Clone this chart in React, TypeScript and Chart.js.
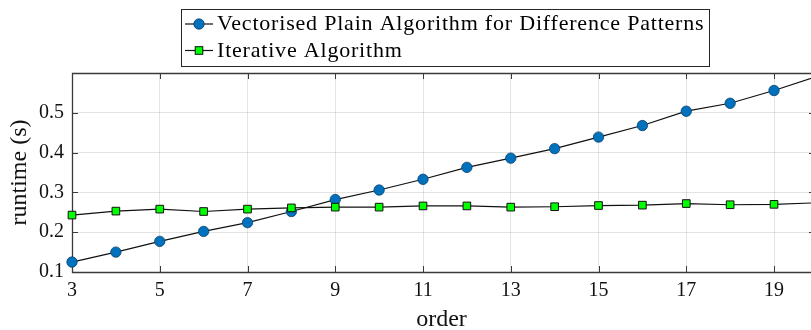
import { useEffect, useRef } from "react";
import { Chart, registerables } from "chart.js";

Chart.register(...registerables);

const orders = [3, 4, 5, 6, 7, 8, 9, 10, 11, 12, 13, 14, 15, 16, 17, 18, 19, 20];
const vectorisedRuntime = [
  0.125, 0.15, 0.177, 0.202, 0.224, 0.252, 0.282, 0.306, 0.333, 0.363, 0.386, 0.41,
  0.439, 0.468, 0.504, 0.524, 0.556, 0.592,
];
const iterativeRuntime = [
  0.243, 0.253, 0.258, 0.252, 0.258, 0.261, 0.263, 0.263, 0.266, 0.266, 0.263, 0.264,
  0.267, 0.268, 0.272, 0.269, 0.27, 0.274,
];
const xTickValues = [3, 5, 7, 9, 11, 13, 15, 17, 19];
const yTickValues = [0.1, 0.2, 0.3, 0.4, 0.5];
const seriesLabels = ["Vectorised Plain Algorithm for Difference Patterns", "Iterative Algorithm"];
const xAxisTitle = "order";
const yAxisTitle = "runtime (s)";

const FONT = '"Liberation Serif", "Times New Roman", serif';
const AXIS_COLOR = "#3a3a3a";
const BLUE = "#0072BD";
const BLUE_EDGE = "#0b3f6b";
const GREEN = "#00FF00";

const framePlugin = {
  id: "frame",
  beforeDatasetsDraw(chart: any) {
    const { ctx, chartArea } = chart;
    const { left, right, top, bottom } = chartArea;
    const xs = chart.scales.x;
    const ys = chart.scales.y;
    ctx.save();
    ctx.strokeStyle = AXIS_COLOR;
    ctx.lineWidth = 1.3;
    ctx.beginPath();
    ctx.moveTo(right, top + 0.5);
    ctx.lineTo(left + 0.5, top + 0.5);
    ctx.lineTo(left + 0.5, bottom + 0.5);
    ctx.lineTo(right, bottom + 0.5);
    ctx.stroke();
    ctx.lineWidth = 1;
    ctx.beginPath();
    xTickValues.forEach((v) => {
      const px = Math.round(xs.getPixelForValue(v)) + 0.5;
      ctx.moveTo(px, bottom);
      ctx.lineTo(px, bottom - 6);
      ctx.moveTo(px, top);
      ctx.lineTo(px, top + 6);
    });
    yTickValues.forEach((v) => {
      const py = Math.round(ys.getPixelForValue(v)) + 0.5;
      ctx.moveTo(left, py);
      ctx.lineTo(left + 6, py);
      ctx.moveTo(right, py);
      ctx.lineTo(right - 2, py);
    });
    ctx.stroke();
    ctx.restore();
  },
};

const legendPlugin = {
  id: "customLegend",
  afterDraw(chart: any) {
    const { ctx } = chart;
    const bx = 181, by = 9, bw = 528, bh = 57;
    ctx.save();
    ctx.fillStyle = "#ffffff";
    ctx.fillRect(bx, by, bw, bh);
    ctx.strokeStyle = "#262626";
    ctx.lineWidth = 1;
    ctx.strokeRect(bx + 0.5, by + 0.5, bw, bh);
    const rows = [
      { y: 24, base: 30, label: seriesLabels[0], kind: "circle" },
      { y: 50.5, base: 57, label: seriesLabels[1], kind: "square" },
    ];
    rows.forEach((r) => {
      ctx.strokeStyle = "#111";
      ctx.lineWidth = 1.2;
      ctx.beginPath();
      ctx.moveTo(bx + 4, r.y);
      ctx.lineTo(bx + 32, r.y);
      ctx.stroke();
      const cx = bx + 18;
      if (r.kind === "circle") {
        ctx.beginPath();
        ctx.arc(cx, r.y, 5.2, 0, Math.PI * 2);
        ctx.fillStyle = BLUE;
        ctx.fill();
        ctx.strokeStyle = BLUE_EDGE;
        ctx.lineWidth = 0.8;
        ctx.stroke();
      } else {
        ctx.fillStyle = GREEN;
        ctx.fillRect(cx - 3.8, r.y - 3.8, 7.6, 7.6);
        ctx.strokeStyle = "#111";
        ctx.lineWidth = 1;
        ctx.strokeRect(cx - 3.8, r.y - 3.8, 7.6, 7.6);
      }
      ctx.fillStyle = "#000";
      ctx.font = `22px ${FONT}`;
      (ctx as any).letterSpacing = "0.8px";
      ctx.textAlign = "left";
      ctx.textBaseline = "alphabetic";
      ctx.fillText(r.label, bx + 36, r.base);
    });
    ctx.restore();
  },
};

export default function App() {
  const canvasRef = useRef<HTMLCanvasElement | null>(null);

  useEffect(() => {
    document.body.style.margin = "0";
    const canvas = canvasRef.current;
    if (!canvas) return;
    const chart = new Chart(canvas, {
      type: "line",
      data: {
        datasets: [
          {
            label: seriesLabels[0],
            data: orders.map((o, i) => ({ x: o, y: vectorisedRuntime[i] })),
            borderColor: "#111",
            borderWidth: 1.2,
            pointStyle: "circle",
            pointRadius: 5.2,
            pointBackgroundColor: BLUE,
            pointBorderColor: BLUE_EDGE,
            pointBorderWidth: 0.8,
            clip: false,
            order: 1,
          },
          {
            label: seriesLabels[1],
            data: orders.map((o, i) => ({ x: o, y: iterativeRuntime[i] })),
            borderColor: "#111",
            borderWidth: 1.2,
            pointStyle: "rect",
            pointRadius: 5.4,
            pointBackgroundColor: GREEN,
            pointBorderColor: "#111",
            pointBorderWidth: 1,
            clip: false,
            order: 0,
          },
        ],
      },
      options: {
        responsive: false,
        animation: false,
        events: [],
        layout: { autoPadding: false, padding: { top: 73, right: 0, left: 0, bottom: 0 } },
        plugins: {
          legend: { display: false },
          tooltip: { enabled: false },
        },
        scales: {
          x: {
            type: "linear",
            min: 3,
            max: 19.843,
            afterBuildTicks: (scale: any) => {
              scale.ticks = xTickValues.map((v) => ({ value: v }));
            },
            afterFit: (scale: any) => {
              scale.height = 58;
              scale.paddingLeft = 0;
              scale.paddingRight = 0;
            },
            grid: { color: "rgba(38,38,38,0.13)", lineWidth: 1, drawTicks: false },
            border: { display: false },
            ticks: {
              color: "#111",
              font: { family: FONT, size: 20 },
              padding: 7,
              maxRotation: 0,
              autoSkip: false,
              callback: (v: any) => String(v),
            },
            title: {
              display: true,
              text: xAxisTitle,
              color: "#111",
              font: { family: FONT, size: 24, lineHeight: 0.83 },
              padding: { top: 0, bottom: 0 },
            },
          },
          y: {
            type: "linear",
            min: 0.1,
            max: 0.6,
            afterBuildTicks: (scale: any) => {
              scale.ticks = yTickValues.map((v) => ({ value: v }));
            },
            afterFit: (scale: any) => {
              scale.width = 72;
              scale.paddingTop = 0;
              scale.paddingBottom = 0;
            },
            grid: { color: "rgba(38,38,38,0.13)", lineWidth: 1, drawTicks: false },
            border: { display: false },
            ticks: {
              color: "#111",
              font: { family: FONT, size: 20 },
              padding: 8,
              autoSkip: false,
              callback: (v: any) => Number(v).toFixed(1),
            },
            title: {
              display: true,
              text: yAxisTitle,
              color: "#111",
              font: { family: FONT, size: 24, lineHeight: 1 },
              padding: { top: 8, bottom: 0 },
            },
          },
        },
      },
      plugins: [framePlugin, legendPlugin],
    } as any);
    return () => chart.destroy();
  }, []);

  return (
    <div style={{ position: "absolute", left: 0, top: 0, width: 811, height: 330 }}>
      <canvas ref={canvasRef} width={811} height={330} style={{ display: "block" }} />
    </div>
  );
}
